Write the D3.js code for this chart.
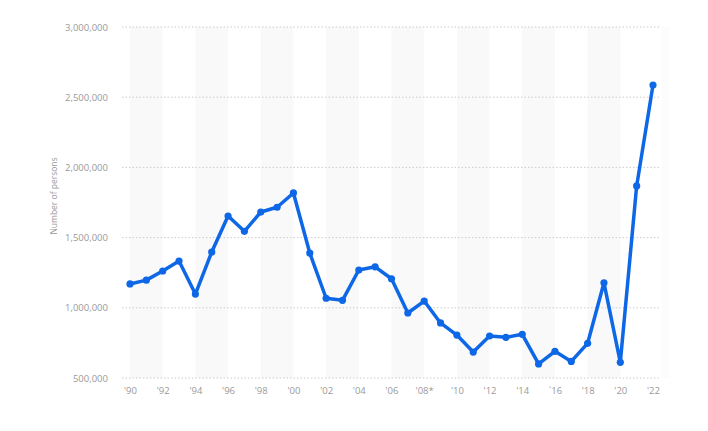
<!DOCTYPE html>
<html><head><meta charset="utf-8">
<script src="https://cdn.jsdelivr.net/npm/d3@7"></script>
<style>body{margin:0;background:#fff;font-family:"Open Sans",Arial,sans-serif}</style>
</head><body><svg id="c" width="708" height="431"></svg>
<script>
const years = [1990,1991,1992,1993,1994,1995,1996,1997,1998,1999,2000,2001,2002,2003,2004,2005,2006,2007,2008,2009,2010,2011,2012,2013,2014,2015,2016,2017,2018,2019,2020,2021,2022];
const values = [1170000,1197000,1262000,1333000,1098000,1397000,1654000,1545000,1682000,1716000,1818000,1390000,1068000,1053000,1269000,1292000,1207000,963000,1048000,892000,806000,685000,799000,790000,811000,600000,690000,618000,747000,1178000,612000,1868000,2587000];
const xTickYears = [1990,1992,1994,1996,1998,2000,2002,2004,2006,2008,2010,2012,2014,2016,2018,2020,2022];
const xTickLabels = ["'90","'92","'94","'96","'98","'00","'02","'04","'06","'08*","'10","'12","'14","`16","'18","'20","'22"];
const yTicks = [500000,1000000,1500000,2000000,2500000,3000000];
const yLabel = "Number of persons";

const svg = d3.select("#c");
const x = d3.scaleLinear().domain([1990,2022]).range([130,653]);
const y = d3.scaleLinear().domain([500000,3000000]).range([378,27]);
const gx0 = 122, gx1 = 661;
const font = "Open Sans, Arial, sans-serif";

// bands
const bandStarts = [1990,1994,1998,2002,2006,2010,2014,2018];
svg.append("g").selectAll("rect").data(bandStarts).join("rect")
  .attr("x", d=>x(d)).attr("width", d=>x(d+2)-x(d))
  .attr("y", y(3000000)).attr("height", y(500000)-y(3000000))
  .attr("fill","#f9f9f9");
svg.append("rect").attr("x", x(2022)+9).attr("width",8).attr("y",y(3000000)).attr("height",y(500000)-y(3000000)).attr("fill","#fcfcfc");

// grid
svg.append("g").selectAll("line").data(yTicks).join("line")
  .attr("x1",gx0).attr("x2",gx1).attr("y1",d=>y(d)).attr("y2",d=>y(d))
  .attr("stroke","#cccccc").attr("stroke-width",1).attr("stroke-dasharray","1.5,2");

// y axis labels
const yAxis = d3.axisLeft(y).tickValues(yTicks).tickFormat(d3.format(",")).tickSize(0).tickPadding(0);
const ga = svg.append("g").attr("transform","translate(108,0)").call(yAxis);
ga.select(".domain").remove();
ga.selectAll("text").attr("fill","#999").attr("font-size","9.5px").attr("font-family",font);

// x axis labels
const xAxis = d3.axisBottom(x).tickValues(xTickYears).tickFormat((d,i)=>xTickLabels[i]).tickSize(0).tickPadding(0);
const gb = svg.append("g").attr("transform","translate(0,387)").call(xAxis);
gb.select(".domain").remove();
gb.selectAll("text").attr("fill","#999").attr("font-size","9.5px").attr("font-family",font);

// y title
svg.append("text").attr("transform","translate(57,196) rotate(-90)").attr("text-anchor","middle")
  .attr("fill","#999").attr("font-size","8.5px").attr("font-family",font).text(yLabel);

// line
const pts = years.map((d,i)=>({yr:d,v:values[i]}));
svg.append("path").datum(pts)
  .attr("d", d3.line().x(d=>x(d.yr)).y(d=>y(d.v)))
  .attr("fill","none").attr("stroke","#0d67e6").attr("stroke-width",3.5).attr("stroke-linejoin","round");
svg.append("g").selectAll("circle").data(pts).join("circle")
  .attr("cx",d=>x(d.yr)).attr("cy",d=>y(d.v)).attr("r",3.6).attr("fill","#0d67e6");
</script></body></html>
